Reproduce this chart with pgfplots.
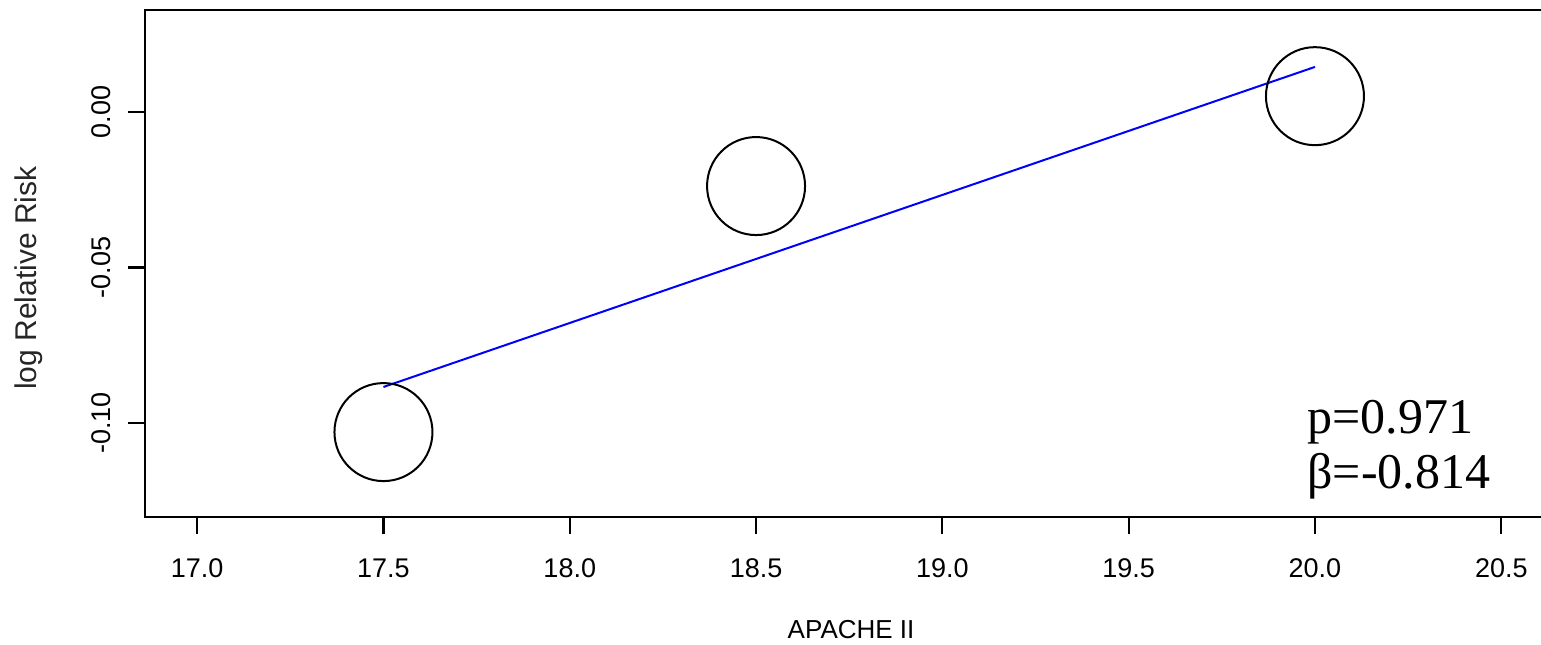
\documentclass[border=0pt]{standalone}
\usepackage{fontspec}
\setmainfont{Liberation Sans}
\newfontfamily\annfont{Liberation Serif}
\usepackage{pgfplots}
\pgfplotsset{compat=1.18}
\begin{document}
\begin{tikzpicture}
\begin{axis}[
  scale only axis, width=699.5pt, height=253.5pt,
  xmin=16.860, xmax=20.6147, ymin=-0.1302, ymax=0.0328,
  xtick={17,17.5,18,18.5,19,19.5,20,20.5},
  xticklabels={17.0,17.5,18.0,18.5,19.0,19.5,20.0,20.5},
  ytick={-0.1,-0.05,0},
  yticklabels={-0.10,-0.05,0.00},
  tick align=outside, major tick length=8.5pt,
  xtick pos=bottom, ytick pos=left,
  tick style={black, line width=1.1pt},
  axis line style={line width=1.2pt},
  ticklabel style={font=\fontsize{13.5}{15}\selectfont},
  xticklabel style={anchor=base, yshift=-21.5pt},
  yticklabel style={xshift=-8.5pt, rotate=90, anchor=base},
  xlabel={APACHE II}, ylabel={log Relative Risk},
  xlabel style={at={(axis description cs:0.5047,-0.2387)}, anchor=base, font=\fontsize{13}{15}\selectfont},
  ylabel style={at={(axis description cs:-0.0829,0.471)}, anchor=center, font=\fontsize{15}{17}\selectfont, color=black!85},
]
\addplot[blue, line width=1pt] coordinates {(17.5,-0.0884) (20.0,0.0145)};
\addplot[only marks, mark=o, mark size=24.5pt, mark options={black, line width=1pt}] coordinates {(17.5,-0.1029) (18.5,-0.0238) (20.0,0.0051)};
\node[anchor=base west, inner sep=0pt, font=\annfont\fontsize{25}{28}\selectfont] at (axis cs:19.979,-0.1032) {p=0.971};
\node[anchor=base west, inner sep=0pt, font=\annfont\fontsize{25}{28}\selectfont] at (axis cs:19.979,-0.1209) {β=-0.814};
\end{axis}
\pgfresetboundingbox
\path ([shift={(-72.5pt,-63.5pt)}]current axis.south west) rectangle ([shift={(-1.5pt,5pt)}]current axis.north east);
\end{tikzpicture}
\end{document}
